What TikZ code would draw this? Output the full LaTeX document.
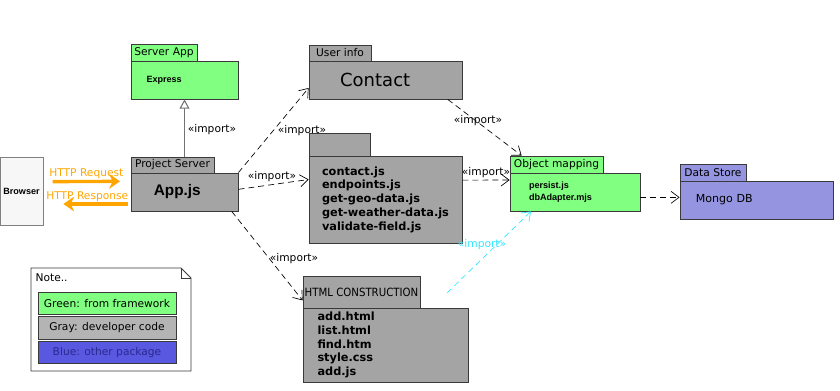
\documentclass[tikz,border=0pt]{standalone}
\usepackage{fontspec}
\setmainfont{DejaVu Sans}
\newfontfamily\condfont{DejaVu Sans Condensed}
\newfontfamily\narrowfont{Liberation Sans}
\usetikzlibrary{arrows.meta,fit}

\definecolor{fwgreen}{HTML}{80FF80}
\definecolor{devgray}{HTML}{A4A4A4}
\definecolor{lightdev}{HTML}{B4B4B4}
\definecolor{storeblue}{HTML}{9494E0}
\definecolor{keyblue}{HTML}{5858E0}
\definecolor{keytext}{HTML}{2A2A90}
\definecolor{edge}{HTML}{3A3A3A}
\definecolor{http}{HTML}{FFA500}
\definecolor{link}{HTML}{30E8FF}

\begin{document}
\begin{tikzpicture}[
        x=0.75pt, y=-0.75pt,
        box/.style={draw=edge, line width=0.6pt, inner sep=0pt},
        tabfont/.style={font=\fontsize{8}{10}\selectfont},
        tab/.style={box, label={[tabfont]center:#1}},
        green/.style={fill=fwgreen},
        gray/.style={fill=devgray},
        blue/.style={fill=storeblue},
        keygreen/.style={fill=fwgreen},
        keygray/.style={fill=lightdev},
        keyblue/.style={fill=keyblue},
        small/.style={font=\narrowfont\fontsize{6.8}{9}\selectfont\bfseries, align=left},
        files/.style={font=\fontsize{8.5}{10.3}\selectfont\bfseries, align=left},
        lbl/.style={font=\fontsize{8}{9}\selectfont, inner sep=1pt},
        dep/.style={draw=black, line width=0.5pt, dash pattern=on 4.5pt off 3pt,
            -{Straight Barb[length=6pt, width=9pt]}},
        extends/.style={draw=gray!90!black, line width=0.8pt,
            -{Triangle[open, fill=white, length=7pt, width=7.5pt]}},
        request/.style={draw=http, line width=2.5pt,
            -{Stealth[length=8pt, width=11pt, inset=2.5pt]}}
    ]
    \useasboundingbox (0,0) rectangle (840,391);

    % Browser
    \node[box, draw=gray, fill=white!97!black, fit={(0,157) (43,225)},
        label={[small]center:Browser}] (browser) {};

    % Server App
    \node[tab=Server App, green, fit={(131,44) (197,61)}] (exptab) {};
    \node[box, green, fit={(131,61) (238,99)},
        label={[small, text width=57pt]center:Express}] (express) {};

    % Project Server
    \node[tab=Project Server, gray, fit={(131,157) (214,173)}] (apptab) {};
    \node[box, gray, fit={(131,173) (238,211)},
        label={[font=\narrowfont\fontsize{11.5}{14}\selectfont\bfseries, text width=46pt, align=left]center:App.js}] (app) {};

    % User info
    \node[tab=User info, gray, fit={(309,45) (371,61)}] (contab) {};
    \node[box, gray, fit={(309,61) (462,99)},
        label={[font=\fontsize{13.5}{15}\selectfont, text width=68pt, align=left]center:Contact}] (contact) {};

    % Scripts
    \node[box, gray, fit={(309,133) (370,156)}] (jstab) {};
    \node[box, gray, fit={(309,156) (462,243)},
        label={[files]center:{contact.js\\endpoints.js\\get-geo-data.js\\get-weather-data.js\\validate-field.js}}] (js) {};

    % Object mapping
    \node[tab=Object mapping, green, fit={(510,156) (603,173)}] (objtab) {};
    \node[box, green, fit={(510,173) (640,211)},
        label={[small, text width=69pt]center:{persist.js\\dbAdapter.mjs}}] (obj) {};

    % Data Store
    \node[tab=Data Store, blue, fit={(680,164) (746,181)}] (storetab) {};
    \node[box, blue, fit={(680,181) (833,219)},
        label={[font=\fontsize{8.3}{10}\selectfont, text width=91pt, align=left]center:Mongo DB}] (store) {};

    % HTML construction
    \node[box, gray, fit={(303,276) (420,308)},
        label={[font=\condfont\fontsize{8.5}{10}\selectfont]center:HTML CONSTRUCTION}] (htmltab) {};
    \node[box, gray, fit={(303,308) (468,382)},
        label={[files, text width=102pt]center:{add.html\\list.html\\find.htm\\style.css\\add.js}}] (html) {};

    % Note with legend
    \draw[box, fill=white] (31,268) -- (181,268) -- (191,278) -- (191,371) -- (31,371) -- cycle;
    \draw[box] (181,268) -- (181,278) -- (191,278);
    \node[lbl, anchor=west] (note) at (34,278) {Note..};
    \foreach \y/\s/\c/\t in {292/keygreen/black/{Green: from framework},
                             316.5/keygray/black/{Gray: developer code},
                             341/keyblue/keytext/{Blue: other package}} {
        \node[box, \s, fit={(38,\y) (176,\y+22.5)},
            label={[font=\fontsize{8}{9}\selectfont, text=\c]center:\t}] (\s) {};
    }

    % HTTP traffic
    \draw[request] ([xshift=7pt,yshift=7pt]browser.east) -- ([xshift=-8pt,yshift=8pt]app.west)
        node[lbl, midway, above=-0.5pt, text=http] (req) {HTTP Request};
    \draw[request] ([xshift=-2pt,yshift=-9pt]app.west) -- ([xshift=15pt,yshift=-9.75pt]browser.east)
        node[lbl, pos=0.63, above=-0.5pt, text=http] (resp) {HTTP Response};

    % imports
    \draw[extends] (app.north |- apptab.north) -- (express.south);
    \node[lbl] (imp1) at (212,130) {«import»};

    \draw[dep] (app.north east) -- ([yshift=-6pt]contact.west);
    \node[lbl] (imp2) at (302,131) {«import»};

    \draw[dep] ([yshift=2pt]app.east) -- ([yshift=15pt]js.west);
    \node[lbl] (imp3) at (272,177) {«import»};

    \draw[dep] ([xshift=-5pt]app.south east) -- ([yshift=6pt]htmltab.south west);
    \node[lbl] (imp4) at (294,259) {«import»};

    \draw[dep] ([xshift=-11pt]contact.south east) -- ([xshift=9pt]objtab.north west);
    \node[lbl] (imp5) at (478,121) {«import»};

    \draw[dep] ([yshift=14.5pt]js.east) -- ([yshift=9pt]obj.west);
    \node[lbl] (imp6) at (486,173) {«import»};

    \draw[dep, draw=link] ([xshift=-16pt,yshift=11pt]html.north east) -- ([xshift=16pt]obj.south west);
    \node[lbl, text=link] (imp7) at (482,245) {«import»};

    \draw[dep] ([yshift=-4pt]obj.east) -- ([yshift=2pt]store.west);
\end{tikzpicture}
\end{document}
